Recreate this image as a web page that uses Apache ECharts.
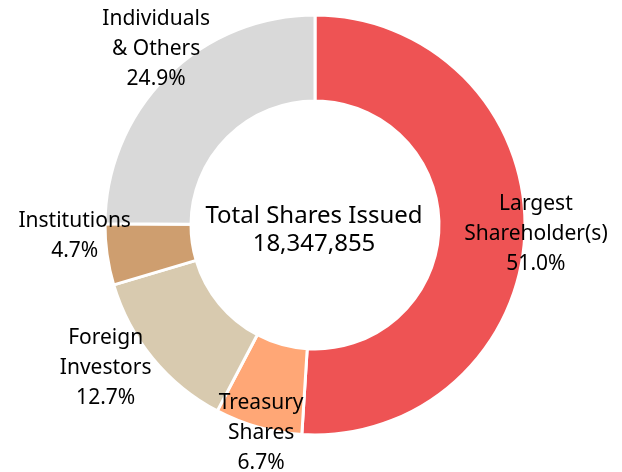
<!DOCTYPE html>
<html>
<head>
<meta charset="utf-8">
<script src="https://cdn.jsdelivr.net/npm/echarts@6/dist/echarts.min.js"></script>
<style>
  html, body { margin: 0; padding: 0; background: #fff; }
  #chart { width: 622px; height: 472px; }
</style>
</head>
<body>
<div id="chart"></div>
<script>
var names = ['Largest\nShareholder(s)', 'Treasury\nShares', 'Foreign\nInvestors', 'Institutions', 'Individuals\n& Others'];
var percents = [51.0, 6.7, 12.7, 4.7, 24.9];
var colors = ['#EE5354', '#FFA776', '#D8CAAF', '#CE9E6F', '#D9D9D9'];
var totalShares = 18347855;

// label nudges away from the ring middle (px)
var labelNudge = [[51, 4], [-8, 44], [-78, 35], [-72, -13], [-39, -55]];

var font = "'Noto Sans', sans-serif";

var pieData = [];
for (var i = 0; i < names.length; i++) {
    pieData.push({ name: names[i], value: percents[i], itemStyle: { color: colors[i] } });
}

var chart = echarts.init(document.getElementById('chart'));
var option = {
    backgroundColor: '#fff',
    animation: false,
    title: {
        text: 'Total Shares Issued\n' + totalShares.toLocaleString('en-US'),
        left: 309,
        top: 197,
        textAlign: 'center',
        textStyle: {
            fontFamily: font,
            fontSize: 24,
            fontWeight: 'normal',
            color: '#000',
            lineHeight: 28
        }
    },
    series: [{
        type: 'pie',
        center: [315, 225],
        radius: [124, 210],
        startAngle: 90,
        clockwise: true,
        itemStyle: { borderColor: '#fff', borderWidth: 3 },
        label: {
            show: true,
            position: 'inside',
            fontFamily: font,
            fontSize: 21,
            lineHeight: 30,
            color: '#000',
            align: 'center',
            formatter: function (p) {
                return p.name + '\n' + p.value.toFixed(1) + '%';
            }
        },
        labelLine: { show: false },
        labelLayout: function (params) {
            var n = labelNudge[params.dataIndex];
            return { dx: n[0], dy: n[1] };
        },
        emphasis: { disabled: true },
        data: pieData
    }]
};
chart.setOption(option);
</script>
</body>
</html>
